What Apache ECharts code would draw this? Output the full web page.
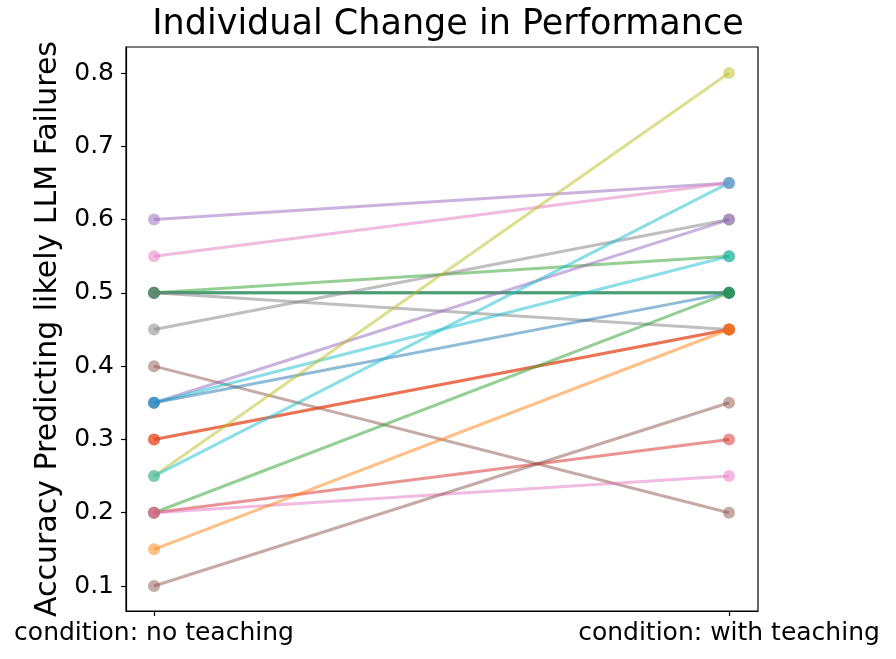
<!DOCTYPE html>
<html>
<head>
<meta charset="utf-8">
<script src="https://cdn.jsdelivr.net/npm/echarts@6/dist/echarts.min.js"></script>
<style>html,body{margin:0;padding:0;background:#fff;}#c{width:896px;height:659px;}</style>
</head>
<body>
<div id="c"></div>
<script>
const conditions = ['condition: no teaching', 'condition: with teaching'];
const noTeaching   = [0.60, 0.55, 0.50, 0.50, 0.50, 0.50, 0.50, 0.45, 0.40, 0.35, 0.35, 0.35, 0.30, 0.30, 0.25, 0.25, 0.20, 0.20, 0.20, 0.15, 0.10];
const withTeaching = [0.65, 0.65, 0.55, 0.50, 0.50, 0.50, 0.45, 0.60, 0.20, 0.60, 0.55, 0.50, 0.45, 0.45, 0.80, 0.65, 0.50, 0.30, 0.25, 0.45, 0.35];
const lineColors   = ['#9467bd','#e377c2','#2ca02c','#7f7f7f','#1f77b4','#2ca02c','#7f7f7f','#7f7f7f','#8c564b','#9467bd','#17becf','#1f77b4','#ff7f0e','#d62728','#bcbd22','#17becf','#2ca02c','#d62728','#e377c2','#ff7f0e','#8c564b'];
const yTicks = [0.1, 0.2, 0.3, 0.4, 0.5, 0.6, 0.7, 0.8];

const series = noTeaching.map((v, i) => ({
  type: 'line',
  data: [[0, v], [1, withTeaching[i]]],
  symbol: 'circle',
  symbolSize: 12,
  lineStyle: { color: lineColors[i], width: 3, opacity: 0.5 },
  itemStyle: { color: lineColors[i], opacity: 0.5 },
  emphasis: { disabled: true },
  animation: false
}));

const chart = echarts.init(document.getElementById('c'));
chart.setOption({
  animation: false,
  title: {
    text: 'Individual Change in Performance',
    left: 'center', top: 2,
    textStyle: { fontFamily: 'DejaVu Sans', fontSize: 35, fontWeight: 'normal', color: '#000' }
  },
  grid: { left: 126, right: 138, top: 47, bottom: 48, show: true, borderColor: '#000', borderWidth: 1.2, containLabel: false },
  xAxis: {
    type: 'value', min: -0.0487, max: 1.0504,
    splitLine: { show: false },
    axisLine: { show: true, onZero: false, lineStyle: { color: '#000', width: 1.2 } },
    axisTick: { show: true, customValues: [0, 1], length: 5, lineStyle: { color: '#000', width: 1.2 } },
    axisLabel: {
      customValues: [0, 1],
      formatter: v => conditions[Math.round(v)],
      fontFamily: 'DejaVu Sans', fontSize: 25, color: '#000', margin: 10
    }
  },
  yAxis: {
    type: 'value', min: 0.0659, max: 0.8355,
    name: 'Accuracy Predicting likely LLM Failures',
    nameLocation: 'middle', nameGap: 60,
    nameTextStyle: { fontFamily: 'DejaVu Sans', fontSize: 30, color: '#000' },
    splitLine: { show: false },
    axisLine: { show: true, onZero: false, lineStyle: { color: '#000', width: 1.2 } },
    axisTick: { show: true, customValues: yTicks, length: 5, lineStyle: { color: '#000', width: 1.2 } },
    axisLabel: {
      customValues: yTicks,
      formatter: v => v.toFixed(1),
      fontFamily: 'DejaVu Sans', fontSize: 25, color: '#000', margin: 12
    }
  },
  series: series
});
</script>
</body>
</html>
